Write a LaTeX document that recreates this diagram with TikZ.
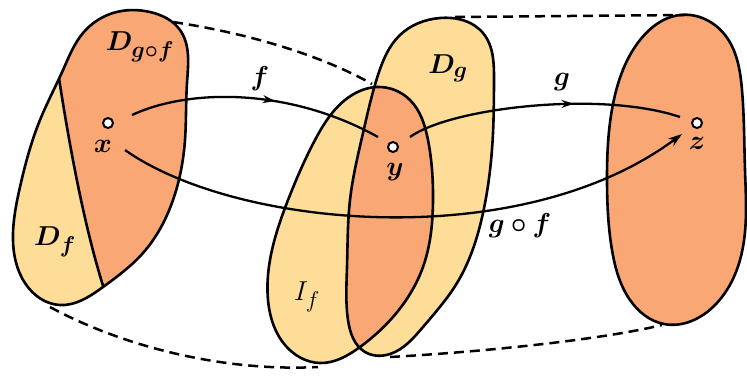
\documentclass[tikz,border=0pt]{standalone}
\usepackage{amsmath,bm}
\usetikzlibrary{arrows.meta,decorations.markings,calc,hobby}
\definecolor{blobor}{RGB}{249,168,117}
\definecolor{blobye}{RGB}{253,221,152}
\begin{document}
\begin{tikzpicture}[x=1pt,y=-1pt,
  blobline/.style={line width=2.6pt, line join=round},
  dashline/.style={line width=2.5pt, dash pattern=on 10pt off 6pt},
  arrowline/.style={line width=2.3pt},
  dotnode/.style={circle, draw, fill=white, line width=2pt, inner sep=0pt, minimum size=10pt},
  lbl/.style={font=\fontsize{24.88}{30}\selectfont, inner sep=0pt, scale=1.1},
  hob/.style={use Hobby shortcut, closed=true},
  midarrow/.style={postaction={decorate}, decoration={markings, mark=at position #1 with {\arrow{Stealth[length=12pt,width=8pt]}}}}
]
\useasboundingbox (0,0) rectangle (747,376);
\def\LB{(113,13) .. (150,12) .. (180,30) .. (187,83) .. (185,140) .. (173,200) .. (143,253) .. (103,287) .. (60,305) .. (22,278) .. (13,233) .. (20,187) .. (40,120) .. (63,70) .. (83,33)}
\def\DG{(440,18) .. (483,33) .. (494,80) .. (493,133) .. (483,213) .. (457,283) .. (423,327) .. (390,354) .. (365,352) .. (348,320) .. (347,267) .. (350,200) .. (363,133) .. (378,75) .. (400,35)}
\def\IF{(377,87) .. (410,100) .. (428,140) .. (433,200) .. (423,267) .. (393,317) .. (360,347) .. (320,363) .. (285,345) .. (268,300) .. (272,250) .. (290,195) .. (315,140) .. (345,100)}
\def\RB{(680,15) .. (725,35) .. (742,90) .. (745,170) .. (740,260) .. (715,305) .. (664,324) .. (630,300) .. (612,250) .. (607,180) .. (615,95) .. (640,40)}
% left blob
\fill[blobor, hob] \LB;
\begin{scope}
  \clip[hob] \LB;
  \fill[blobye] (47,0) -- (58,72) .. controls (70,150) and (85,230) .. (105,292) -- (130,376) -- (0,376) -- (0,0) -- cycle;
  \draw[blobline] (58,72) .. controls (70,150) and (85,230) .. (105,292);
\end{scope}
\draw[blobline, hob] \LB;
% middle blobs
\fill[blobye, hob] \DG;
\fill[blobye, hob] \IF;
\begin{scope}
  \clip[hob] \DG;
  \fill[blobor, hob] \IF;
\end{scope}
\draw[blobline, hob] \DG;
\draw[blobline, hob] \IF;
% right blob
\fill[blobor, hob] \RB;
\draw[blobline, hob] \RB;
% dashed
\draw[dashline] (173,22) .. controls (260,35) and (330,60) .. (372,84);
\draw[dashline] (455,17) -- (684,15);
\draw[dashline] (50,307) .. controls (120,345) and (220,372) .. (318,367);
\draw[dashline] (390,357) .. controls (480,352) and (600,340) .. (662,325);
% points
\node[dotnode] (x) at (108,123) {};
\node[dotnode] (y) at (393,147) {};
\node[dotnode] (z) at (697,123) {};
\coordinate (f0) at ($(x)+(24,-8)$);
\coordinate (f1) at ($(y)+(-15,-10)$);
\coordinate (g0) at ($(y)+(17,-10)$);
\coordinate (g1) at ($(z)+(-17,-6)$);
\coordinate (h0) at ($(x)+(17,27)$);
\coordinate (h1) at ($(z)+(-15,11)$);
% arrows
\draw[arrowline, midarrow=0.57] (f0) .. controls (190,88) and (290,88) .. (f1);
\draw[arrowline, midarrow=0.61] (g0) .. controls (450,108) and (600,90) .. (g1);
\draw[arrowline, -{Stealth[length=14pt,width=9pt]}] (h0) .. controls (235,228) and (520,255) .. (h1);
% labels
\node[lbl] (lDgf) at (140,47) {$\bm{D_{g\circ f}}$};
\node[lbl] (lDf) at (55,242) {$\bm{D_f}$};
\node[lbl] (lx) at (103,146) {$\bm{x}$};
\node[lbl] (ly) at (395,172) {$\bm{y}$};
\node[lbl] (lz) at (697,143) {$\bm{z}$};
\node[lbl] (lf) at (260,79) {$\bm{f}$};
\node[lbl] (lg) at (562,82) {$\bm{g}$};
\node[lbl] (lDg) at (448,68) {$\bm{D_g}$};
\node[lbl] (lIf) at (307,297) {$I_f$};
\node[lbl] (lgf) at (520,226) {$\bm{g\circ f}$};
\end{tikzpicture}
\end{document}
